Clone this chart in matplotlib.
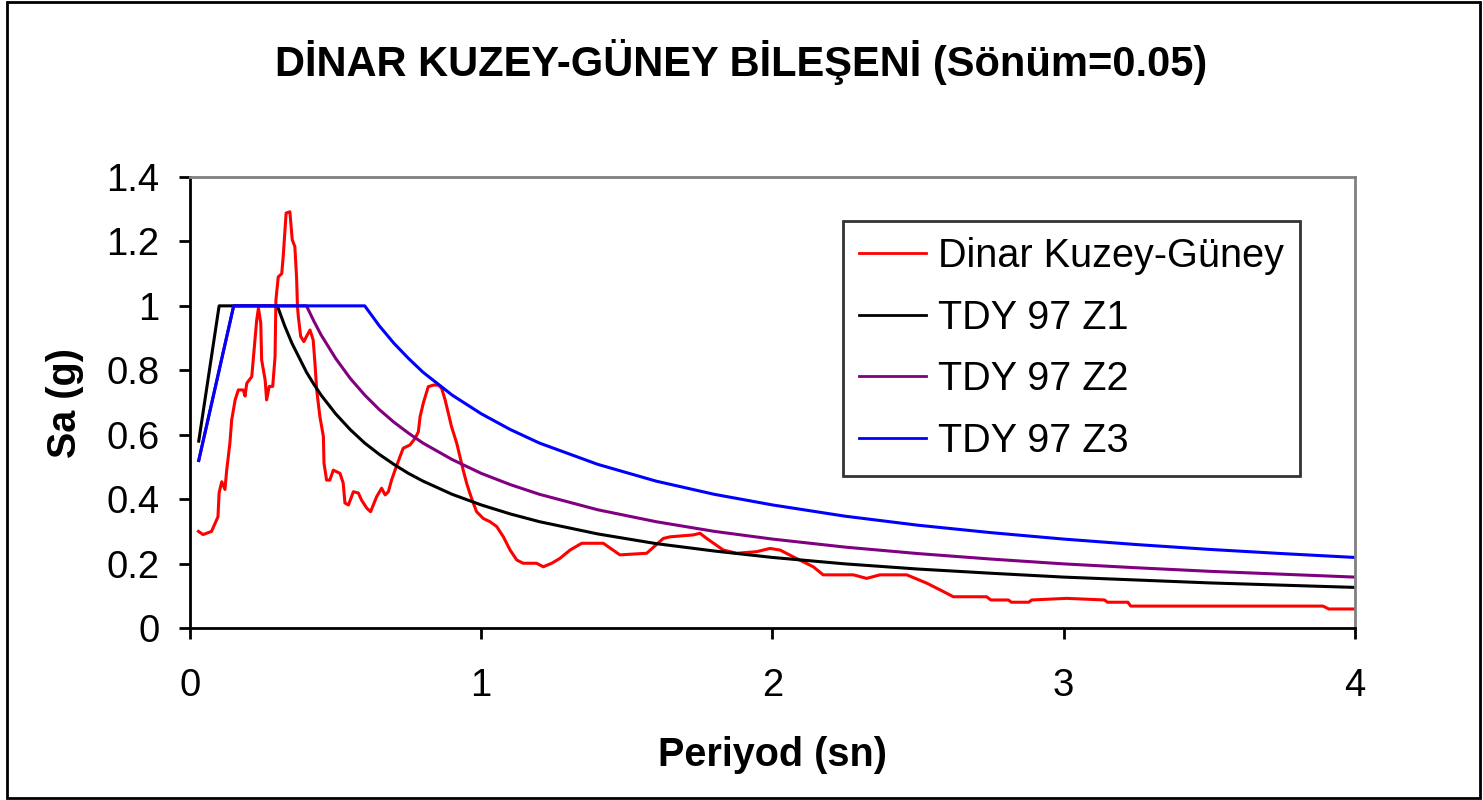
import numpy as np
import matplotlib
matplotlib.use("Agg")
import matplotlib.pyplot as plt
from matplotlib.patches import Rectangle

plt.rcParams['font.family'] = ['Liberation Sans', 'DejaVu Sans']

# Dinar kuzey-güney ivme spektrumu (okunan değerler)
periyod_dinar = [0.029, 0.045, 0.074, 0.096, 0.100, 0.109, 0.120, 0.126, 0.137, 0.143,
                 0.155, 0.166, 0.183, 0.189, 0.195, 0.212, 0.217, 0.229, 0.235, 0.243,
                 0.246, 0.258, 0.263, 0.272, 0.284, 0.292, 0.295, 0.303, 0.315, 0.320,
                 0.330, 0.343, 0.351, 0.360, 0.366, 0.369, 0.372, 0.380, 0.391, 0.400,
                 0.412, 0.423, 0.429, 0.435, 0.446, 0.458, 0.460, 0.469, 0.480, 0.492,
                 0.515, 0.526, 0.532, 0.544, 0.561, 0.578, 0.589, 0.607, 0.620, 0.641,
                 0.658, 0.670, 0.681, 0.692, 0.704, 0.721, 0.732, 0.755, 0.773, 0.784,
                 0.790, 0.801, 0.818, 0.835, 0.853, 0.864, 0.876, 0.887, 0.898, 0.916,
                 0.927, 0.938, 0.950, 0.961, 0.973, 0.984, 1.007, 1.030, 1.053, 1.076,
                 1.099, 1.122, 1.144, 1.190, 1.213, 1.242, 1.270, 1.305, 1.345, 1.419,
                 1.476, 1.568, 1.625, 1.648, 1.728, 1.751, 1.774, 1.831, 1.877, 1.946,
                 1.991, 2.026, 2.071, 2.140, 2.174, 2.278, 2.323, 2.369, 2.461, 2.530,
                 2.587, 2.621, 2.735, 2.750, 2.810, 2.820, 2.880, 2.890, 3.010, 3.140,
                 3.150, 3.220, 3.230, 3.890, 3.910, 4.000]
sa_dinar = [0.300, 0.290, 0.300, 0.345, 0.420, 0.454, 0.430, 0.490, 0.574, 0.645,
            0.708, 0.739, 0.739, 0.720, 0.760, 0.780, 0.832, 0.956, 0.993, 0.946,
            0.832, 0.770, 0.708, 0.750, 0.750, 0.842, 1.018, 1.090, 1.100, 1.153,
            1.288, 1.292, 1.205, 1.184, 1.087, 0.998, 0.966, 0.905, 0.889, 0.905,
            0.925, 0.894, 0.822, 0.739, 0.656, 0.594, 0.512, 0.459, 0.459, 0.490,
            0.480, 0.450, 0.388, 0.382, 0.423, 0.419, 0.397, 0.372, 0.361, 0.408,
            0.434, 0.413, 0.423, 0.459, 0.490, 0.532, 0.558, 0.568, 0.589, 0.609,
            0.656, 0.698, 0.749, 0.754, 0.754, 0.744, 0.708, 0.667, 0.625, 0.573,
            0.532, 0.490, 0.449, 0.418, 0.387, 0.361, 0.340, 0.330, 0.315, 0.283,
            0.242, 0.211, 0.201, 0.201, 0.190, 0.201, 0.216, 0.242, 0.263, 0.263,
            0.227, 0.232, 0.278, 0.283, 0.289, 0.294, 0.278, 0.242, 0.232, 0.237,
            0.247, 0.242, 0.221, 0.190, 0.165, 0.165, 0.154, 0.165, 0.165, 0.139,
            0.113, 0.097, 0.097, 0.087, 0.087, 0.080, 0.080, 0.087, 0.092, 0.087,
            0.080, 0.080, 0.068, 0.068, 0.059, 0.059]

# TDY 97 tasarım spektrumları (okunan değerler)
periyod_tdy = [0.03, 0.05, 0.075, 0.1, 0.125, 0.15, 0.2, 0.25, 0.3, 0.325, 0.35, 0.4,
               0.425, 0.45, 0.5, 0.55, 0.6, 0.65, 0.7, 0.75, 0.8, 0.9, 1.0, 1.1, 1.2,
               1.4, 1.6, 1.8, 2.0, 2.25, 2.5, 2.75, 3.0, 3.25, 3.5, 3.75, 4.0]
sa_z1 = [0.58, 0.70, 0.85, 1.0, 1.0, 1.0, 1.0, 1.0, 1.0, 0.938, 0.884, 0.794,
         0.757, 0.723, 0.665, 0.616, 0.574, 0.539, 0.508, 0.480, 0.456, 0.415, 0.382, 0.354, 0.330,
         0.292, 0.262, 0.239, 0.219, 0.199, 0.183, 0.170, 0.158, 0.149, 0.140, 0.133, 0.126]
sa_z2 = [0.52, 0.60, 0.70, 0.80, 0.90, 1.0, 1.0, 1.0, 1.0, 1.0, 1.0, 1.0,
         0.953, 0.910, 0.837, 0.775, 0.723, 0.678, 0.639, 0.605, 0.574, 0.523, 0.480, 0.445, 0.415,
         0.367, 0.330, 0.300, 0.276, 0.251, 0.231, 0.214, 0.199, 0.187, 0.176, 0.167, 0.158]
sa_z3 = [0.52, 0.60, 0.70, 0.80, 0.90, 1.0, 1.0, 1.0, 1.0, 1.0, 1.0, 1.0,
         1.0, 1.0, 1.0, 1.0, 1.0, 0.938, 0.884, 0.837, 0.794, 0.723, 0.665, 0.616, 0.574,
         0.508, 0.456, 0.415, 0.382, 0.347, 0.319, 0.296, 0.276, 0.259, 0.244, 0.231, 0.219]

etiketler = ['Dinar Kuzey-Güney', 'TDY 97 Z1', 'TDY 97 Z2', 'TDY 97 Z3']
renkler = ['#FF0000', '#000000', '#800080', '#0000FF']

fig = plt.figure(figsize=(14.83, 8), dpi=100)
fig.patches.append(Rectangle((0.005, 0.003), 0.993, 0.994, transform=fig.transFigure,
                             fill=False, edgecolor='black', linewidth=2))

ax = fig.add_axes([190 / 1483, 1 - 628 / 800, (1355 - 190) / 1483, (628 - 177) / 800])

ax.plot(periyod_dinar, sa_dinar, color=renkler[0], linewidth=2.2, label=etiketler[0])
ax.plot(periyod_tdy, sa_z1, color=renkler[1], linewidth=2.2, label=etiketler[1])
ax.plot(periyod_tdy, sa_z2, color=renkler[2], linewidth=2.2, label=etiketler[2])
ax.plot(periyod_tdy, sa_z3, color=renkler[3], linewidth=2.2, label=etiketler[3])

ax.set_xlim(0, 4)
ax.set_ylim(0, 1.4)
ax.set_xticks([0, 1, 2, 3, 4])
ax.set_yticks([0, 0.2, 0.4, 0.6, 0.8, 1.0, 1.2, 1.4])
ax.set_yticklabels(['0', '0.2', '0.4', '0.6', '0.8', '1', '1.2', '1.4'])

ax.spines['left'].set_color('black')
ax.spines['bottom'].set_color('black')
ax.spines['left'].set_linewidth(2)
ax.spines['bottom'].set_linewidth(2)
ax.spines['top'].set_color('#808080')
ax.spines['right'].set_color('#808080')
ax.spines['top'].set_linewidth(2)
ax.spines['right'].set_linewidth(2)

ax.tick_params(axis='both', direction='out', length=8, width=2, labelsize=27.5)
ax.tick_params(axis='y', pad=14)
ax.tick_params(axis='x', pad=21)

ax.set_xlabel('Periyod (sn)', fontsize=28.5, fontweight='bold', labelpad=23)
ax.set_ylabel('Sa (g)', fontsize=28.5, fontweight='bold', labelpad=16)

fig.text(0.5, 1 - 62 / 800, 'DİNAR KUZEY-GÜNEY BİLEŞENİ (Sönüm=0.05)',
         ha='center', va='center', fontsize=30, fontweight='bold')

leg = ax.legend(loc='upper left', bbox_to_anchor=(843 / 1483, 1 - 221 / 800),
                bbox_transform=fig.transFigure, fontsize=28.5, frameon=True, fancybox=False,
                handlelength=1.7, handletextpad=0.3, labelspacing=0.6, borderpad=0.4,
                borderaxespad=0)
leg.get_frame().set_edgecolor('black')
leg.get_frame().set_linewidth(2)
for line in leg.get_lines():
    line.set_linewidth(2)

fig.savefig('out.png', dpi=100)
